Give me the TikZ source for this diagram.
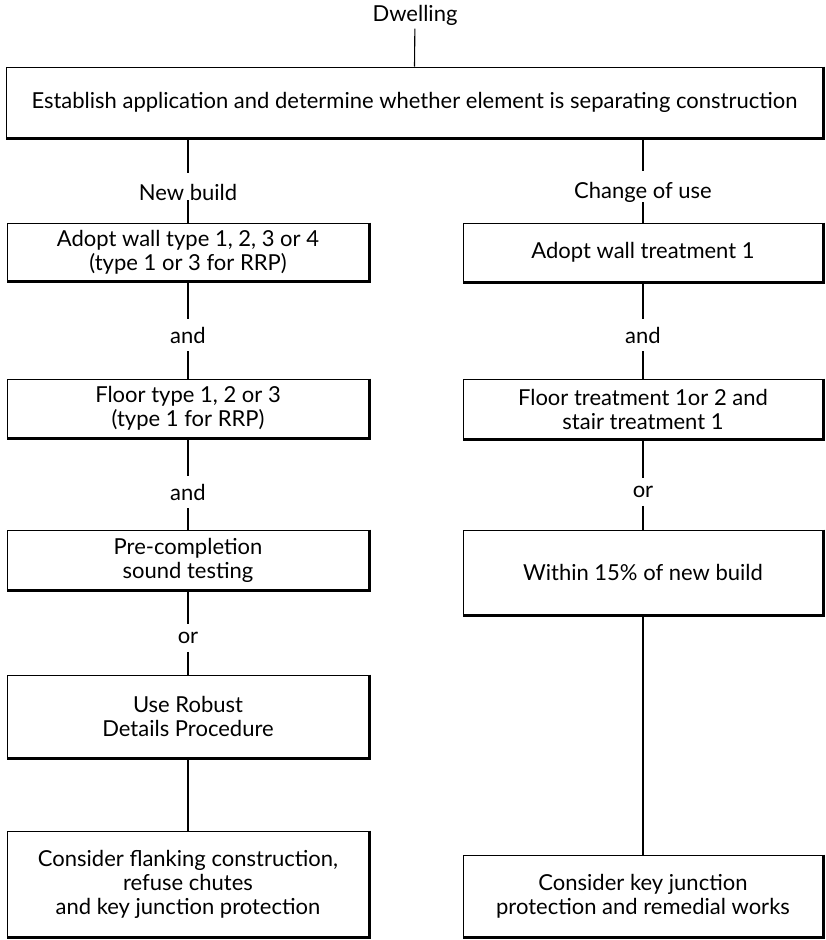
\documentclass[tikz,border=0pt]{standalone}
\usepackage{fontspec}
\setmainfont{Lato}
\usetikzlibrary{positioning}
\tikzstyle{block} = [rectangle,draw,line width=1pt,align=center,inner sep=0pt]
\tikzstyle{word} = [inner xsep=2pt,inner ysep=8pt]
\tikzstyle{line} = [draw,line width=1.1pt]

\begin{document}
\begin{tikzpicture}[x=1pt,y=-1pt,font=\fontsize{22}{24}\selectfont]
\useasboundingbox (0,0) rectangle (826,940);
% top of the chart
\node (dwelling) at (415,15) {Dwelling};
\node[block,minimum width=817pt,minimum height=71pt] (establish) at (414.5,102.5)
    {Establish application and determine whether element is separating construction};
\node[inner xsep=2pt,inner ysep=0pt] (newbuild) at (188,192) {New build};
\node[inner xsep=2pt,inner ysep=0pt] (changeuse) at (643,192) {Change of use};
\path[line] (dwelling) edge (establish.north);
\path[line,shorten >=11pt] (establish.south -| newbuild) edge (newbuild.north)
    (establish.south -| changeuse) edge (changeuse.north);

% new build column
\node[block,minimum width=362pt,minimum height=58pt] (walltype) at (188,252)
    {Adopt wall type 1, 2, 3 or 4\\(type 1 or 3 for RRP)};
\node[word] (and-a) at (188,335) {and};
\node[block,minimum width=362pt,minimum height=59pt] (floortype) at (188,408.5)
    {Floor type 1, 2 or 3\\(type 1 for RRP)};
\node[word] (and-b) at (188,492) {and};
\node[block,minimum width=362pt,minimum height=60pt] (testing) at (188,560)
    {Pre-completion\\sound testing};
\node[word] (or-a) at (188,638) {or};
\node[block,minimum width=362pt,minimum height=83pt] (robust) at (188,716.5)
    {Use Robust\\Details Procedure};
\node[block,minimum width=362pt,minimum height=106pt] (flanking) at (188,884)
    {Consider flanking construction,\\refuse chutes\\and key junction protection};
\path[line] (newbuild.south) edge (walltype)
    (walltype) edge (and-a)
    (and-a) edge (floortype)
    (floortype) edge (and-b)
    (and-b) edge (testing)
    (testing) edge (or-a)
    (or-a) edge (robust)
    (robust) edge (flanking);

% change of use column
\node[block,minimum width=360pt,minimum height=59pt] (walltreat) at (643,252.5)
    {Adopt wall treatment 1};
\node[word] (and-c) at (643,335) {and};
\node[block,minimum width=360pt,minimum height=60pt] (floortreat) at (643,409)
    {Floor treatment 1or 2 and\\stair treatment 1};
\node[word] (or-b) at (643,492) {or};
\node[block,minimum width=360pt,minimum height=85pt] (within) at (643,572.5)
    {Within 15\% of new build};
\node[block,minimum width=360pt,minimum height=82pt] (junction) at (643,896)
    {Consider key junction\\protection and remedial works};
\path[line] (changeuse.south) edge (walltreat)
    (walltreat) edge (and-c)
    (and-c) edge (floortreat)
    (floortreat) edge (or-b)
    (or-b) edge (within)
    (within) edge (junction);

% heavier lower and right edges
\foreach \b in {establish,walltype,floortype,testing,robust,flanking,walltreat,floortreat,within,junction}
    \draw[line width=2.6pt] (\b.north east) -- (\b.south east) -- (\b.south west);
\end{tikzpicture}
\end{document}
